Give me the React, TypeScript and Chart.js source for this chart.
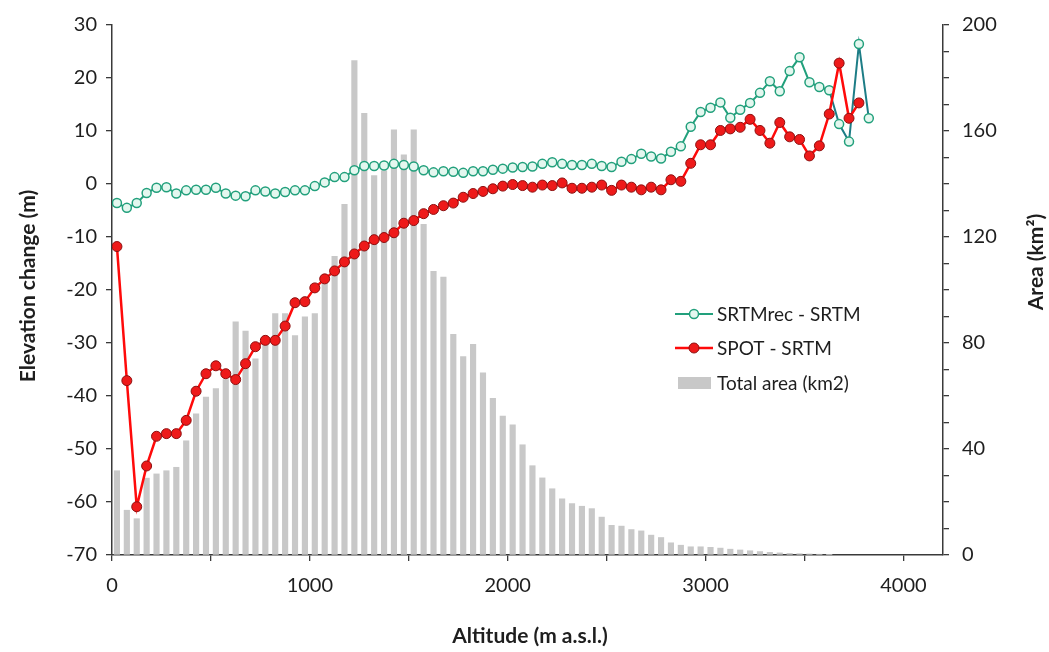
import React, { useEffect, useRef } from 'react';
import { Chart, registerables } from 'chart.js';

Chart.register(...registerables);

// Altitude bin centres (m a.s.l.)
const altitudes = [
  25, 75, 125, 175, 225, 275, 325, 375, 425, 475,
  525, 575, 625, 675, 725, 775, 825, 875, 925, 975,
  1025, 1075, 1125, 1175, 1225, 1275, 1325, 1375, 1425, 1475,
  1525, 1575, 1625, 1675, 1725, 1775, 1825, 1875, 1925, 1975,
  2025, 2075, 2125, 2175, 2225, 2275, 2325, 2375, 2425, 2475,
  2525, 2575, 2625, 2675, 2725, 2775, 2825, 2875, 2925, 2975,
  3025, 3075, 3125, 3175, 3225, 3275, 3325, 3375, 3425, 3475,
  3525, 3575, 3625, 3675, 3725, 3775, 3825,
];

// SRTMrec - SRTM (m)
const srtmRecDiff = [
  -3.6, -4.5, -3.6, -1.7, -0.7, -0.6, -1.8, -1.2, -1.1, -1.1,
  -0.7, -1.8, -2.2, -2.3, -1.2, -1.4, -1.8, -1.5, -1.2, -1.2,
  -0.4, 0.3, 1.3, 1.3, 2.6, 3.4, 3.4, 3.5, 3.8, 3.6,
  3.3, 2.6, 2.2, 2.4, 2.3, 2.1, 2.4, 2.4, 2.7, 2.9,
  3.1, 3.2, 3.3, 3.8, 4.1, 3.8, 3.6, 3.6, 3.8, 3.4,
  3.2, 4.2, 4.7, 5.7, 5.2, 4.8, 6.1, 7.1, 10.8, 13.6,
  14.4, 15.4, 12.5, 14.0, 15.3, 17.2, 19.4, 17.5, 21.3, 23.9,
  19.2, 18.3, 17.7, 11.3, 8.0, 26.4, 12.4,
];

// SPOT - SRTM (m)
const spotDiff = [
  -11.8, -37.1, -60.9, -53.2, -47.6, -47.1, -47.1, -44.6, -39.1, -35.8,
  -34.3, -35.8, -36.9, -33.9, -30.7, -29.5, -29.5, -26.8, -22.4, -22.2,
  -19.6, -17.9, -16.4, -14.7, -13.2, -11.7, -10.5, -10.1, -9.2, -7.4,
  -6.9, -5.6, -4.8, -4.1, -3.6, -2.5, -1.8, -1.4, -0.9, -0.4,
  -0.1, -0.3, -0.6, -0.2, -0.3, 0.2, -0.8, -0.8, -0.6, -0.2,
  -1.2, -0.2, -0.6, -1.1, -0.6, -1.1, 0.8, 0.5, 3.9, 7.4,
  7.4, 10.1, 10.4, 10.7, 12.2, 10.1, 7.7, 11.6, 8.9, 8.4,
  5.3, 7.2, 13.2, 22.8, 12.4, 15.3,
];

// Total area per bin (km2)
const totalArea = [
  31.8, 16.9, 13.7, 29.0, 30.6, 31.8, 33.1, 43.1, 53.3, 59.6,
  62.8, 66.2, 88.0, 84.5, 74.0, 80.5, 91.1, 91.1, 82.8, 89.9,
  91.1, 103.0, 112.7, 132.3, 186.6, 166.7, 143.2, 145.0, 160.4, 151.0,
  160.4, 124.8, 107.0, 104.9, 83.3, 74.9, 79.5, 68.7, 59.1, 52.4,
  49.1, 41.6, 33.7, 29.1, 25.0, 21.2, 19.4, 18.4, 17.5, 14.3,
  11.2, 10.9, 9.6, 9.1, 7.5, 6.6, 4.6, 3.7, 3.1, 3.1,
  2.9, 2.6, 2.2, 1.9, 1.6, 1.3, 1.0, 0.8, 0.6, 0.5,
  0.4, 0.3, 0.2,
];

const xTickValues = [0, 500, 1000, 1500, 2000, 2500, 3000, 3500, 4000];
const xLabelValues = [0, 1000, 2000, 3000, 4000];
const leftTickValues = [-70, -60, -50, -40, -30, -20, -10, 0, 10, 20, 30];
const rightTickValues = [0, 10, 20, 30, 40, 50, 60, 70, 80, 90, 100, 110, 120, 130, 140, 150, 160, 170, 180, 190, 200];
const rightLabelValues = [0, 40, 80, 120, 160, 200];

const seriesNames = ['SRTMrec - SRTM', 'SPOT - SRTM', 'Total area (km2)'];
const axisTitles = { x: 'Altitude (m a.s.l.)', left: 'Elevation change (m)', right: 'Area (km²)' };

const FONT = 'Lato, "Open Sans", "DejaVu Sans", sans-serif';
const TEXT = '#1e1e1e';
const AXIS = '#3a3a3a';
const GREEN = '#22a07c';
const GREEN_DARK = '#1d7d86';
const GREEN_FILL = '#e4f7ef';
const RED = '#ff0a0a';
const RED_FILL = '#ee1a1a';
const RED_EDGE = '#8c1010';
const BAR = '#c8c8c8';

const overlayPlugin = {
  id: 'overlay',
  afterDraw(chart: any) {
    const ctx = chart.ctx;
    ctx.save();
    ctx.fillStyle = TEXT;
    ctx.font = `bold 21px ${FONT}`;
    ctx.textAlign = 'center';
    ctx.textBaseline = 'middle';
    // x title
    ctx.fillText(axisTitles.x, 530, 636);
    // left title
    ctx.save();
    ctx.translate(28, 286);
    ctx.rotate(-Math.PI / 2);
    ctx.fillText(axisTitles.left, 0, 0);
    ctx.restore();
    // right title
    ctx.save();
    ctx.translate(1036, 262);
    ctx.rotate(-Math.PI / 2);
    ctx.fillText(axisTitles.right, 0, 0);
    ctx.restore();

    // legend
    ctx.font = `19px ${FONT}`;
    ctx.textAlign = 'left';
    const lx0 = 675, lx1 = 713, tx = 717;
    const rows = [314, 348, 383];
    // green
    ctx.strokeStyle = GREEN;
    ctx.lineWidth = 2;
    ctx.beginPath(); ctx.moveTo(lx0, rows[0]); ctx.lineTo(lx1, rows[0]); ctx.stroke();
    ctx.beginPath(); ctx.arc(694, rows[0], 4.5, 0, Math.PI * 2);
    ctx.fillStyle = GREEN_FILL; ctx.fill(); ctx.lineWidth = 1.5; ctx.strokeStyle = GREEN; ctx.stroke();
    // red
    ctx.strokeStyle = RED;
    ctx.lineWidth = 2.5;
    ctx.beginPath(); ctx.moveTo(lx0, rows[1]); ctx.lineTo(lx1, rows[1]); ctx.stroke();
    ctx.beginPath(); ctx.arc(694, rows[1], 5, 0, Math.PI * 2);
    ctx.fillStyle = RED_FILL; ctx.fill(); ctx.lineWidth = 1; ctx.strokeStyle = RED_EDGE; ctx.stroke();
    // bar
    ctx.fillStyle = BAR;
    ctx.fillRect(678, rows[2] - 6, 33, 12);
    ctx.fillStyle = TEXT;
    rows.forEach((y, i) => ctx.fillText(seriesNames[i], tx, y + 1));
    ctx.restore();
  },
};

export default function App() {
  const canvasRef = useRef<HTMLCanvasElement | null>(null);

  useEffect(() => {
    if (!canvasRef.current) return;
    const tickFont = { family: FONT, size: 20 };
    const chart = new Chart(canvasRef.current, {
      type: 'bar',
      data: {
        datasets: [
          {
            type: 'line',
            label: seriesNames[0],
            data: altitudes.map((x, i) => ({ x, y: srtmRecDiff[i] })),
            yAxisID: 'y',
            borderColor: GREEN,
            borderWidth: 2,
            pointRadius: 4.5,
            pointBackgroundColor: GREEN_FILL,
            pointBorderColor: GREEN,
            pointBorderWidth: 1.5,
            tension: 0,
            order: 2,
            segment: {
              borderColor: (c: any) => (c.p0DataIndex >= 72 ? GREEN_DARK : undefined),
            },
          } as any,
          {
            type: 'line',
            label: seriesNames[1],
            data: spotDiff.map((y, i) => ({ x: altitudes[i], y })),
            yAxisID: 'y',
            borderColor: RED,
            borderWidth: 2.5,
            pointRadius: 5,
            pointBackgroundColor: RED_FILL,
            pointBorderColor: RED_EDGE,
            pointBorderWidth: 1,
            tension: 0,
            order: 1,
          } as any,
          {
            type: 'bar',
            label: seriesNames[2],
            data: totalArea.map((a, i) => ({ x: altitudes[i], y: a })),
            yAxisID: 'y1',
            backgroundColor: BAR,
            barThickness: 5.5,
            order: 3,
          } as any,
        ],
      },
      options: {
        animation: false,
        responsive: false,
        devicePixelRatio: 1,
        layout: { padding: { top: 21, left: 0, right: 0, bottom: 0 } },
        plugins: { legend: { display: false }, tooltip: { enabled: false } },
        scales: {
          x: {
            type: 'linear',
            position: 'bottom',
            min: 0,
            max: 4200,
            offset: false,
            afterBuildTicks: (s: any) => { s.ticks = xTickValues.map((v) => ({ value: v })); },
            afterFit: (s: any) => { s.height = 97; },
            ticks: {
              autoSkip: false,
              maxRotation: 0,
              font: tickFont,
              color: TEXT,
              padding: 13,
              callback: (v: any) => (xLabelValues.includes(Number(v)) ? String(v) : ''),
            },
            grid: { drawOnChartArea: false, drawTicks: true, tickLength: 6, color: AXIS, lineWidth: 1.3, offset: false },
            border: { display: true, color: AXIS, width: 1.5 },
          },
          y: {
            type: 'linear',
            position: 'left',
            min: -70,
            max: 30,
            afterBuildTicks: (s: any) => { s.ticks = leftTickValues.map((v) => ({ value: v })); },
            afterFit: (s: any) => { s.width = 112; },
            ticks: { font: tickFont, color: TEXT, padding: 9, autoSkip: false },
            grid: { drawOnChartArea: false, drawTicks: true, tickLength: 6, color: AXIS, lineWidth: 1.3 },
            border: { display: true, color: AXIS, width: 1.5 },
          },
          y1: {
            type: 'linear',
            position: 'right',
            min: 0,
            max: 200,
            afterBuildTicks: (s: any) => { s.ticks = rightTickValues.map((v) => ({ value: v })); },
            afterFit: (s: any) => { s.width = 106; },
            ticks: {
              font: tickFont,
              color: TEXT,
              padding: 13,
              autoSkip: false,
              callback: (v: any) => (rightLabelValues.includes(Number(v)) ? String(v) : ''),
            },
            grid: { drawOnChartArea: false, drawTicks: true, tickLength: 6, color: AXIS, lineWidth: 1.3 },
            border: { display: true, color: AXIS, width: 1.5 },
          },
        },
      } as any,
      plugins: [overlayPlugin],
    });
    return () => chart.destroy();
  }, []);

  return (
    <div style={{ position: 'fixed', left: 0, top: 0, width: 1049, height: 652, background: '#fff' }}>
      <canvas ref={canvasRef} width={1049} height={652} style={{ display: 'block', width: 1049, height: 652 }} />
    </div>
  );
}
